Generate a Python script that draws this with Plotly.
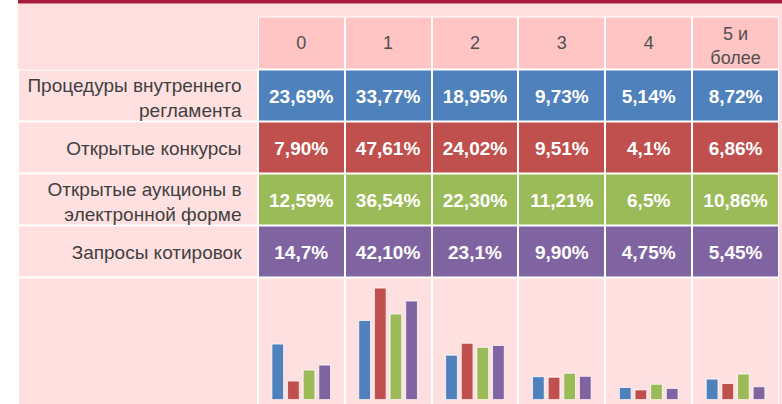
import plotly.graph_objects as go
import numpy as np

# ---------------- data ----------------
columns = ["0", "1", "2", "3", "4", "5 и<br>более"]
procedures = [
    "Процедуры внутреннего<br>регламента",
    "Открытые конкурсы",
    "Открытые аукционы в<br>электронной форме",
    "Запросы котировок",
]
internal_rules = [23.69, 33.77, 18.95, 9.73, 5.14, 8.72]
open_tenders = [7.90, 47.61, 24.02, 9.51, 4.1, 6.86]
e_auctions = [12.59, 36.54, 22.30, 11.21, 6.5, 10.86]
quotations = [14.7, 42.10, 23.1, 9.90, 4.75, 5.45]

internal_rules_txt = ["23,69%", "33,77%", "18,95%", "9,73%", "5,14%", "8,72%"]
open_tenders_txt = ["7,90%", "47,61%", "24,02%", "9,51%", "4,1%", "6,86%"]
e_auctions_txt = ["12,59%", "36,54%", "22,30%", "11,21%", "6,5%", "10,86%"]
quotations_txt = ["14,7%", "42,10%", "23,1%", "9,90%", "4,75%", "5,45%"]

series_values = [internal_rules, open_tenders, e_auctions, quotations]
series_texts = [internal_rules_txt, open_tenders_txt, e_auctions_txt, quotations_txt]
series_colors = ["#4F81BD", "#C0504D", "#9BBB59", "#8064A2"]

# ---------------- layout geometry (pixel-unit axes) ----------------
W, H = 782, 404
BG = "#FFE0E0"
HDR = "#FFC4C4"
TOPBAR = "#A91B3C"
FONT = "Liberation Sans, Arial, sans-serif"
FS = 19

left = 18
col_start = 257.8
col_w = (779 - col_start) / len(columns)
x_edges = [left, col_start] + [col_start + col_w * (i + 1) for i in range(len(columns))]
col_centers = [col_start + col_w * (i + 0.5) for i in range(len(columns))]

top = 16.5
row_h = 52
y_edges = [top, top + 53]
for _ in procedures:
    y_edges.append(y_edges[-1] + row_h)
chart_top = y_edges[-1]
y_edges.append(440)
row_centers = [(y_edges[i + 1] + y_edges[i + 2]) / 2 for i in range(len(procedures))]
hdr_center = (y_edges[0] + y_edges[1]) / 2


def nudge(txt, one, two):
    return two if "<br>" in txt else one


# cell colour codes: 0 bg, 1 header, 2.. series
nrows = len(y_edges) - 1
ncols = len(x_edges) - 1
z = np.zeros((nrows, ncols))
z[0, :] = 1
z[0, 0] = np.nan
for i in range(len(procedures)):
    z[i + 1, 1:] = 2 + i
    z[i + 1, 0] = 0
z_under = np.ones_like(z)
z_under[0, 0] = np.nan

cscale = [[0, BG], [0.2, HDR], [0.4, series_colors[0]], [0.6, series_colors[1]],
          [0.8, series_colors[2]], [1.0, series_colors[3]]]

fig = go.Figure()
fig.add_trace(go.Heatmap(x=x_edges, y=y_edges, z=z_under, colorscale=[[0, "white"], [1, "white"]],
                         showscale=False, hoverinfo="skip", xaxis="x", yaxis="y"))
fig.add_trace(go.Heatmap(x=x_edges, y=y_edges, z=z, colorscale=cscale, zmin=0, zmax=5,
                         xgap=2, ygap=2, showscale=False, hoverinfo="skip", xaxis="x", yaxis="y"))

# header texts
fig.add_trace(go.Scatter(x=col_centers, y=[hdr_center + nudge(c, 1.5, 4.5) for c in columns],
                         mode="text", text=columns,
                         textposition="middle center", cliponaxis=False,
                         textfont=dict(family=FONT, size=18, color="#505050"),
                         hoverinfo="skip", showlegend=False))
# row labels
fig.add_trace(go.Scatter(x=[241.5] * len(procedures),
                         y=[rc + nudge(p, 3, 4.5) for rc, p in zip(row_centers, procedures)],
                         mode="text", text=procedures,
                         textposition="middle left", cliponaxis=False,
                         textfont=dict(family=FONT, size=FS, color="#3F3F3F"),
                         hoverinfo="skip", showlegend=False))
# values
for i, txt in enumerate(series_texts):
    fig.add_trace(go.Scatter(x=col_centers, y=[row_centers[i] + 2.5] * len(txt), mode="text",
                             text=["<b>%s</b>" % t for t in txt],
                             textposition="middle center", cliponaxis=False,
                             textfont=dict(family=FONT, size=FS, color="white"),
                             hoverinfo="skip", showlegend=False))

# mini bar charts
cats = [c.replace("<br>", " ") for c in columns]
for i, vals in enumerate(series_values):
    fig.add_trace(go.Bar(x=cats, y=vals, marker=dict(color=series_colors[i],
                                                     line=dict(color="rgba(255,255,255,0.75)", width=1)),
                         xaxis="x2", yaxis="y2", hoverinfo="skip", showlegend=False))

baseline = 399.5
scale = 2.34
fig.update_layout(
    width=W, height=H,
    margin=dict(l=0, r=0, t=0, b=0),
    paper_bgcolor="white",
    plot_bgcolor="rgba(0,0,0,0)",
    showlegend=False,
    barmode="group", bargap=0.28, bargroupgap=0.25,
    xaxis=dict(domain=[0, 1], range=[0, W], visible=False, fixedrange=True),
    yaxis=dict(domain=[0, 1], range=[H, 0], visible=False, fixedrange=True),
    xaxis2=dict(domain=[col_start / W, 779 / W], anchor="y2", visible=False, type="category"),
    yaxis2=dict(domain=[(H - baseline) / H, (H - chart_top) / H], anchor="x2",
                range=[0, (baseline - chart_top) / scale], visible=False),
    shapes=[
        dict(type="rect", xref="x", yref="y", x0=left, x1=W, y0=3.5, y1=H,
             fillcolor=BG, line=dict(width=0), layer="below"),
        dict(type="rect", xref="x", yref="y", x0=left, x1=W, y0=0, y1=3.5,
             fillcolor=TOPBAR, line=dict(width=0), layer="below"),
    ],
)

fig.write_html("out.html", config={"displayModeBar": False, "staticPlot": True},
               post_script="document.body.style.margin='0';document.body.style.overflow='hidden';")
